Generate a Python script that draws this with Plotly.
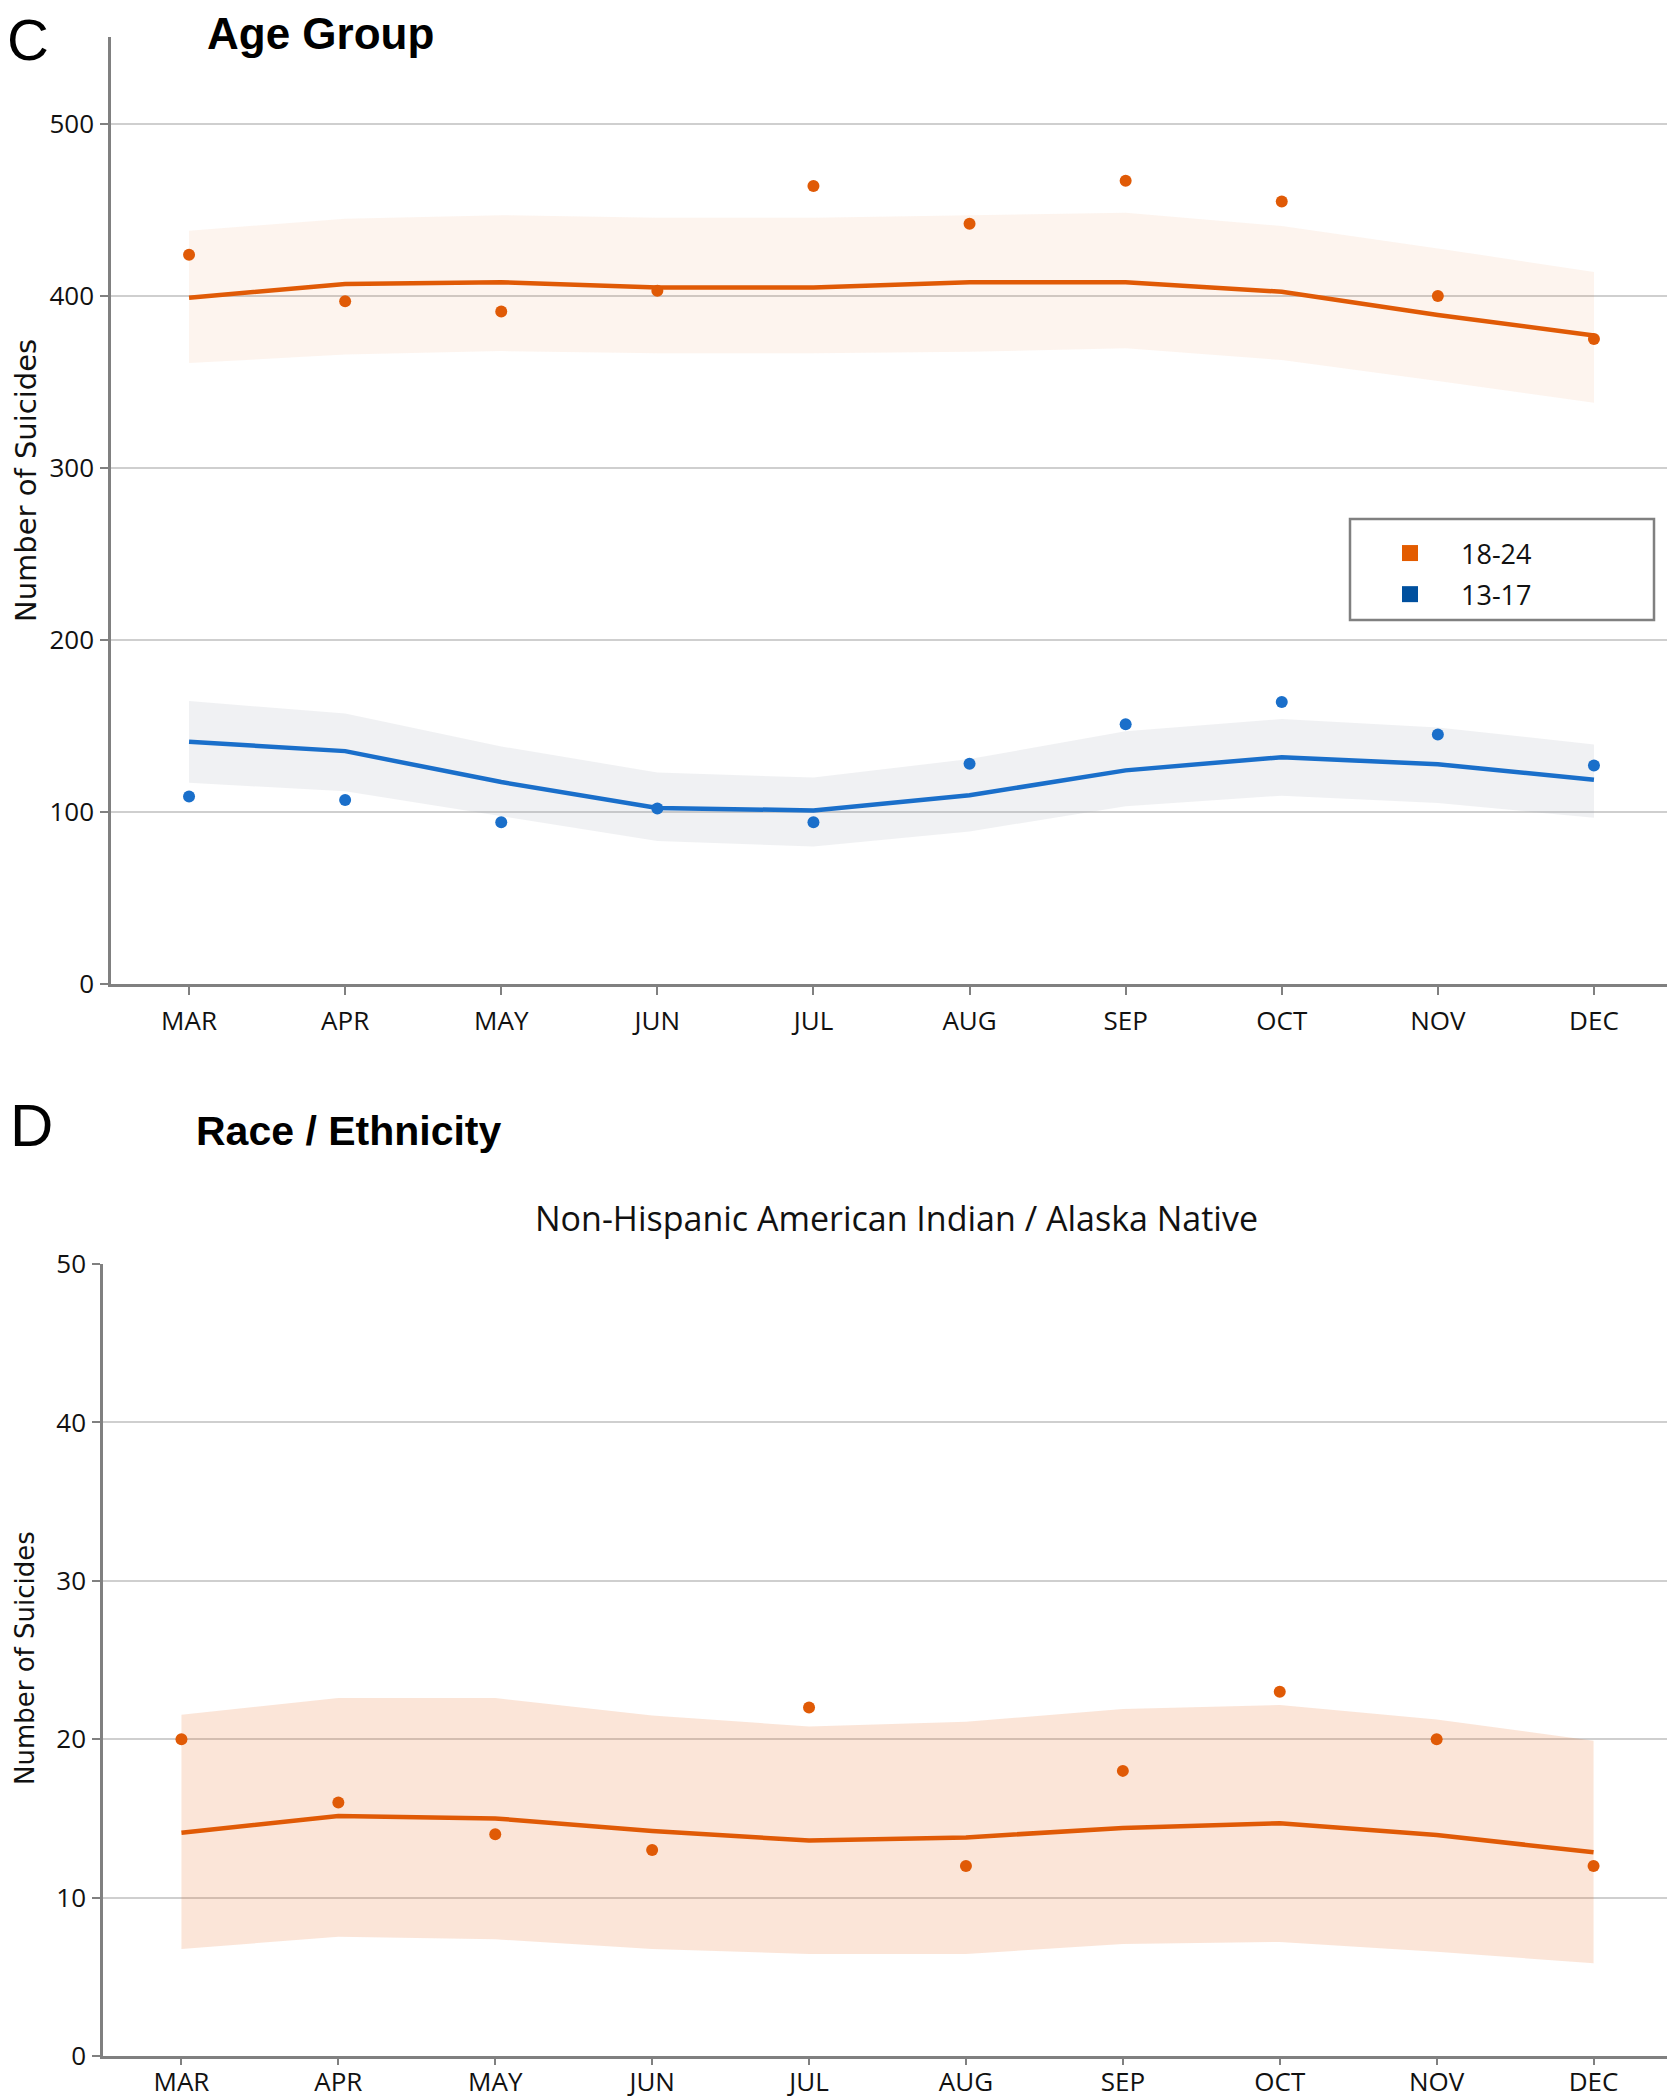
import plotly.graph_objects as go

# The page body keeps its default 8px margin, so the figure is sized to fit the
# 1675x2100 window and page positions are converted to figure positions.
PAGE_OFF = 8
FW, FH = 1675 - PAGE_OFF, 2100 - PAGE_OFF


def px(x):
    return min(1.0, max(0.0, (x - PAGE_OFF) / FW))


def py(y):
    return min(1.0, max(0.0, 1 - (y - PAGE_OFF) / FH))


# ---------------- data ----------------
months = ["MAR", "APR", "MAY", "JUN", "JUL", "AUG", "SEP", "OCT", "NOV", "DEC"]

age1824_obs = [424, 397, 391, 403, 464, 442, 467, 455, 400, 375]
age1824_fit = [399, 407, 408, 405, 405, 408, 408, 402.5, 389, 377]
age1824_hi = [438, 445, 447, 445.5, 445.5, 447, 448.4, 440.7, 427.7, 414]
age1824_lo = [361, 366, 368, 366.7, 366.7, 367.6, 369.6, 362.8, 350.6, 338]

age1317_obs = [109, 107, 94, 102, 94, 128, 151, 164, 145, 127]
age1317_fit = [140.8, 135.4, 117.4, 102.4, 100.9, 109.7, 124.2, 131.9, 127.7, 118.8]
age1317_hi = [164.5, 157.3, 138.1, 123, 120, 130.8, 146.9, 154.1, 149.2, 139.2]
age1317_lo = [117, 112.1, 97.6, 83.1, 80, 88.7, 103.4, 109.5, 105.3, 96.6]

aian_obs = [20, 16, 14, 13, 22, 12, 18, 23, 20, 12]
aian_fit = [14.1, 15.15, 15.0, 14.2, 13.6, 13.8, 14.4, 14.7, 13.95, 12.86]
aian_hi = [21.55, 22.6, 22.6, 21.5, 20.8, 21.1, 21.9, 22.16, 21.25, 19.9]
aian_lo = [6.75, 7.53, 7.37, 6.75, 6.44, 6.44, 7.07, 7.2, 6.58, 5.85]

age_groups = ["18-24", "13-17"]
c_ticks = [0, 100, 200, 300, 400, 500]
d_ticks = [0, 10, 20, 30, 40, 50]

# ---------------- styles ----------------
ORANGE = "#E05A06"
BLUE = "#1A6FCA"
LEG_ORANGE = "#E35C00"
LEG_BLUE = "#00509E"
BAND_C_OR = "rgba(235,110,40,0.08)"
BAND_C_BL = "rgba(160,165,180,0.16)"
BAND_D_OR = "rgba(235,110,40,0.18)"
AXIS = "#808080"
GRID = "#cfcfcf"
SANS = "Open Sans, Liberation Sans, sans-serif"
TICKFONT = dict(family=SANS, size=26, color="#111111")

idx = list(range(len(months)))
xtickvals = idx + [len(months) - 0.5]
xticktext = months + [""]


def band(lo, hi, color, xa, ya):
    return go.Scatter(
        x=idx + idx[::-1], y=hi + lo[::-1], fill="toself", fillcolor=color,
        line=dict(width=0), mode="lines", showlegend=False, hoverinfo="skip",
        xaxis=xa, yaxis=ya)


def fitline(vals, color, xa, ya):
    return go.Scatter(x=idx, y=vals, mode="lines", line=dict(color=color, width=4.5),
                      showlegend=False, xaxis=xa, yaxis=ya)


def dots(vals, color, xa, ya):
    return go.Scatter(x=idx, y=vals, mode="markers",
                      marker=dict(color=color, size=12, line=dict(width=0)),
                      showlegend=False, xaxis=xa, yaxis=ya)


fig = go.Figure()

# Panel C
fig.add_trace(band(age1824_lo, age1824_hi, BAND_C_OR, "x", "y"))
fig.add_trace(band(age1317_lo, age1317_hi, BAND_C_BL, "x", "y"))
fig.add_trace(fitline(age1824_fit, ORANGE, "x", "y"))
fig.add_trace(fitline(age1317_fit, BLUE, "x", "y"))
fig.add_trace(dots(age1824_obs, ORANGE, "x", "y"))
fig.add_trace(dots(age1317_obs, BLUE, "x", "y"))

# legend entries
for name, col in zip(age_groups, [LEG_ORANGE, LEG_BLUE]):
    fig.add_trace(go.Scatter(x=[None], y=[None], mode="markers", name=name,
                             legendgroup=name,
                             marker=dict(symbol="square", size=22, color=col),
                             xaxis="x", yaxis="y"))

# Panel D
fig.add_trace(band(aian_lo, aian_hi, BAND_D_OR, "x2", "y2"))
fig.add_trace(fitline(aian_fit, ORANGE, "x2", "y2"))
fig.add_trace(dots(aian_obs, ORANGE, "x2", "y2"))

xcommon = dict(range=[-0.5, len(months) - 0.5], tickmode="array", tickvals=xtickvals,
               ticktext=xticktext, showgrid=False, zeroline=False, showline=True,
               linecolor=AXIS, linewidth=2.5, ticks="outside", tickwidth=2,
               tickcolor=AXIS, tickfont=TICKFONT, automargin=False)
ycommon = dict(showgrid=True, gridcolor=GRID, gridwidth=2, zeroline=False, showline=True,
               linecolor=AXIS, linewidth=2.5, ticks="outside", ticklen=8, tickwidth=2,
               tickcolor=AXIS, tickfont=TICKFONT, tickmode="array", ticklabelstandoff=1,
               automargin=False)

fig.update_layout(
    width=FW, height=FH, margin=dict(l=0, r=0, t=0, b=0, autoexpand=False),
    paper_bgcolor="white", plot_bgcolor="white",
    xaxis=dict(domain=[px(111), px(1672)], anchor="y", ticklen=8, ticklabelstandoff=4,
               **xcommon),
    yaxis=dict(domain=[py(984), py(37)], range=[0, 550.6], anchor="x",
               tickvals=c_ticks, **ycommon),
    xaxis2=dict(domain=[px(103), px(1672)], anchor="y2", ticklen=6, ticklabelstandoff=-5,
                **xcommon),
    yaxis2=dict(domain=[py(2056), py(1264)], range=[0, 50], anchor="x2",
                tickvals=d_ticks, **ycommon),
    showlegend=True,
    legend=dict(x=px(1359), y=py(529), xanchor="left", yanchor="top",
                bgcolor="rgba(0,0,0,0)", borderwidth=0, itemwidth=92,
                tracegroupgap=3,
                font=dict(family=SANS, size=27, color="#111111")),
    shapes=[dict(type="rect", xref="paper", yref="paper",
                 x0=px(1350), x1=px(1654), y0=py(519), y1=py(620),
                 line=dict(color="#808080", width=2.5), fillcolor="white", layer="above")],
)

ann = []
ann.append(dict(text="C", x=px(27.5), y=py(40), xref="paper", yref="paper",
                showarrow=False, xanchor="center", yanchor="middle",
                font=dict(family="Liberation Sans, Arial, sans-serif", size=58, color="#000")))
ann.append(dict(text="<b>Age Group</b>", x=px(320), y=py(33), xref="paper", yref="paper",
                showarrow=False, xanchor="center", yanchor="middle",
                font=dict(family="Liberation Sans, Arial, sans-serif", size=44, color="#000")))
ann.append(dict(text="D", x=px(31.5), y=py(1125), xref="paper", yref="paper",
                showarrow=False, xanchor="center", yanchor="middle",
                font=dict(family="Liberation Sans, Arial, sans-serif", size=60, color="#000")))
ann.append(dict(text="<b>Race / Ethnicity</b>", x=px(349), y=py(1131), xref="paper",
                yref="paper", showarrow=False, xanchor="center", yanchor="middle",
                font=dict(family="Liberation Sans, Arial, sans-serif", size=41, color="#000")))
ann.append(dict(text="Non-Hispanic American Indian / Alaska Native", x=px(896), y=py(1218),
                xref="paper", yref="paper", showarrow=False, xanchor="center",
                yanchor="middle", font=dict(family=SANS, size=34, color="#111")))
ann.append(dict(text="Number of Suicides", x=px(26), y=py(481), xref="paper", yref="paper",
                showarrow=False, textangle=-90, xanchor="center", yanchor="middle",
                font=dict(family="DejaVu Sans, sans-serif", size=29, color="#111")))
ann.append(dict(text="Number of Suicides", x=px(25), y=py(1658), xref="paper", yref="paper",
                showarrow=False, textangle=-90, xanchor="center", yanchor="middle",
                font=dict(family="DejaVu Sans, sans-serif", size=26, color="#111")))
fig.update_layout(annotations=ann)

fig.write_html("out.html")
